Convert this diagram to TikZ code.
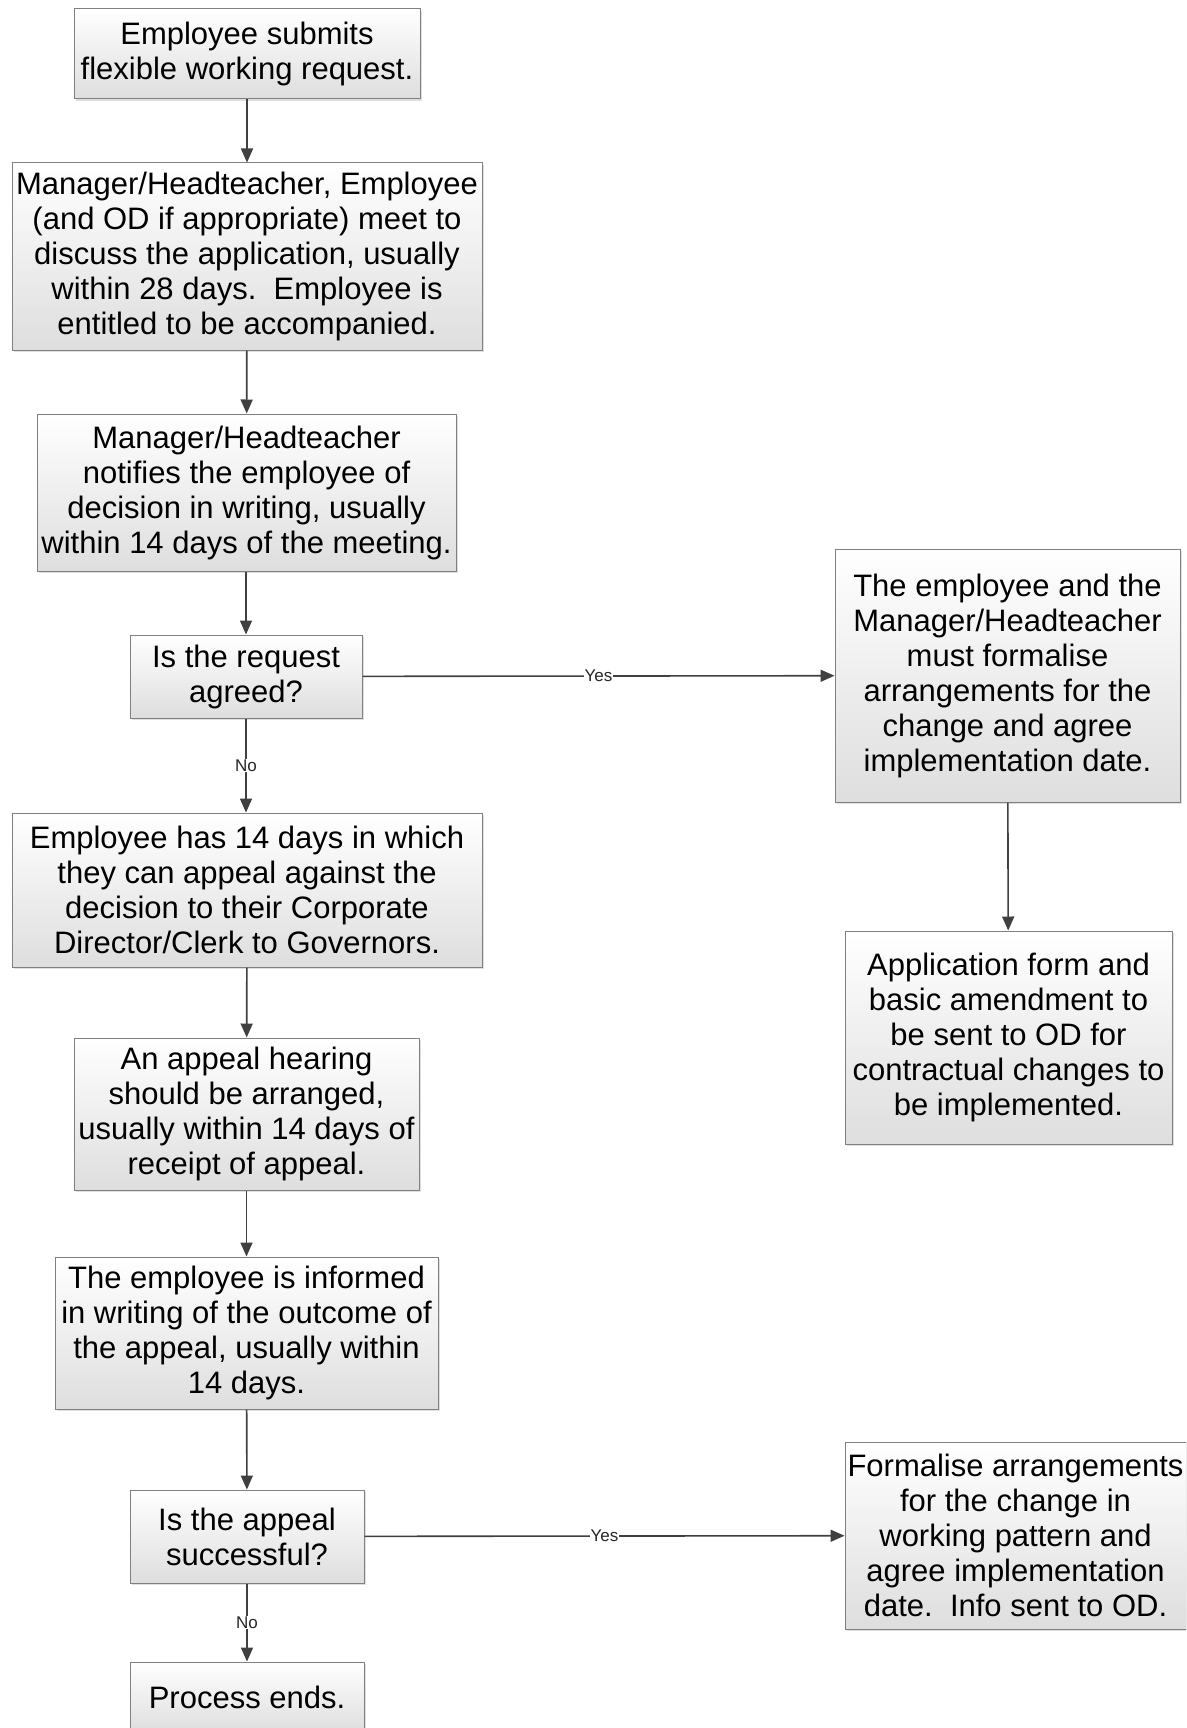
\documentclass[tikz,border=0pt]{standalone}
\usepackage{fontspec}
\setmainfont{Liberation Sans}
\usepackage{tikz}
\usetikzlibrary{arrows.meta,shadows}
\tikzset{
  block/.style={rectangle, draw=black!50, line width=1pt, top color=white, bottom color=black!13,
                align=center, inner sep=2pt, font=\fontsize{31}{35}\selectfont,
                drop shadow={opacity=0.25, shadow xshift=2pt, shadow yshift=-2pt}},
  flow/.style={-{Triangle[length=14pt, width=12pt]}, draw=black!75, line width=1.6pt},
  tag/.style={fill=white, inner sep=1pt, font=\fontsize{17}{19}\selectfont, text=black!85},
}
\begin{document}
\begin{tikzpicture}[x=1pt, y=-1pt]
  \useasboundingbox[fill=white] (0,0) rectangle (1186,1728);
  \clip (0,0) rectangle (1186,1728);
  % left column
  \node[block, minimum width=346pt, minimum height=90pt] (submit) at (247,54)
    {Employee submits\\flexible working request.};
  \node[block, minimum width=470pt, minimum height=187pt] (meet) at (247,256.5)
    {Manager/Headteacher, Employee\\(and OD if appropriate) meet to\\discuss the application, usually\\within 28 days.\ \ Employee is\\entitled to be accompanied.};
  \node[block, minimum width=419pt, minimum height=157pt] (notify) at (246.5,492.5)
    {Manager/Headteacher\\notifies the employee of\\decision in writing, usually\\within 14 days of the meeting.};
  \node[block, minimum width=232pt, minimum height=83pt] (agreed) at (246,676.5)
    {Is the request\\agreed?};
  \node[block, minimum width=470pt, minimum height=154pt] (appeal) at (247,890)
    {Employee has 14 days in which\\they can appeal against the\\decision to their Corporate\\Director/Clerk to Governors.};
  \node[block, minimum width=345pt, minimum height=152pt] (hearing) at (246.5,1114)
    {An appeal hearing\\should be arranged,\\usually within 14 days of\\receipt of appeal.};
  \node[block, minimum width=383pt, minimum height=152pt] (outcome) at (246.5,1333)
    {The employee is informed\\in writing of the outcome of\\the appeal, usually within\\14 days.};
  \node[block, minimum width=234pt, minimum height=93pt] (success) at (247,1536.5)
    {Is the appeal\\successful?};
  \node[block, minimum width=234pt, minimum height=70pt] (ends) at (247,1697)
    {Process ends.};
  % right column
  \node[block, minimum width=345pt, minimum height=253pt] (formal) at (1007.5,675.5)
    {The employee and the\\Manager/Headteacher\\must formalise\\arrangements for the\\change and agree\\implementation date.};
  \node[block, minimum width=327pt, minimum height=213pt] (form) at (1008.5,1037.5)
    {Application form and\\basic amendment to\\be sent to OD for\\contractual changes to\\be implemented.};
  \node[block, minimum width=341pt, minimum height=187pt] (pattern) at (1015.5,1535.5)
    {Formalise arrangements\\for the change in\\working pattern and\\agree implementation\\date.\ \ Info sent to OD.};
  % connectors
  \draw[flow] (submit) -- (meet);
  \draw[flow] (meet) -- (notify);
  \draw[flow] (notify.south -| agreed) -- (agreed);
  \draw[flow] (agreed) -- node[tag] {No} (appeal.north -| agreed);
  \draw[flow] (agreed) -- node[tag] {Yes} (formal);
  \draw[flow] (formal) -- (form);
  \draw[flow] (appeal) -- (hearing);
  \draw[flow] (hearing) -- (outcome);
  \draw[flow] (outcome) -- (success);
  \draw[flow] (success) -- node[tag] {No} (ends);
  \draw[flow] (success) -- node[tag] {Yes} (pattern);
\end{tikzpicture}
\end{document}
